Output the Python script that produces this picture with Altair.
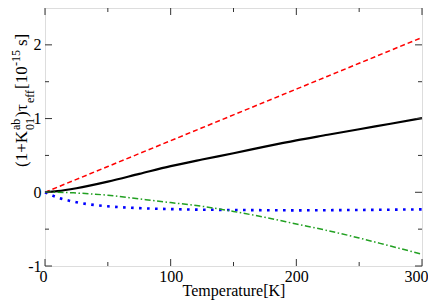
import altair as alt
import pandas as pd

# Temperature grid [K]
temp = [0, 10, 25, 50, 75, 100, 125, 150, 175, 200, 225, 250, 275, 300]
# series values (units of 1e-15 s)
red_dashed = [0, 0.07, 0.175, 0.35, 0.525, 0.70, 0.875, 1.05, 1.225, 1.40, 1.575, 1.75, 1.925, 2.10]
black_solid = [0, 0.015, 0.055, 0.145, 0.25, 0.355, 0.445, 0.53, 0.62, 0.705, 0.78, 0.855, 0.93, 1.005]
blue_dotted = [0, -0.07, -0.135, -0.19, -0.215, -0.228, -0.236, -0.24, -0.243, -0.245, -0.243, -0.24, -0.236, -0.232]
green_dashdot = [0, 0.0, -0.01, -0.04, -0.09, -0.14, -0.19, -0.26, -0.34, -0.43, -0.52, -0.62, -0.73, -0.84]

x_major = [0, 100, 200, 300]
x_minor = [50, 150, 250]
y_major = [-1, 0, 1, 2]
y_minor = [-0.5, 0.5, 1.5]

W, H = 377, 258
FONT = "Liberation Serif"

xs = alt.Scale(domain=[0, 300], nice=False, zero=False)
ys = alt.Scale(domain=[-1, 2.5], nice=False, zero=False)

X_AXIS = alt.Axis(values=x_major, ticks=False, domain=False, grid=False,
                  labelPadding=2, labelExpr="'' + datum.value",
                  labelFlush=True, labelFlushOffset=6,
                  labelFont=FONT, labelFontSize=16, labelColor="black",
                  title="Temperature[K]", titlePadding=-2,
                  titleFont=FONT, titleFontSize=16, titleFontWeight="normal", titleColor="black")
Y_AXIS = alt.Axis(values=y_major, ticks=False, domain=False, grid=False,
                  labelPadding=4, labelExpr="'' + datum.value", labelFlush=False,
                  labelFont=FONT, labelFontSize=16, labelColor="black", title=None)


def series_chart(vals, color, width, dash=None):
    df = pd.DataFrame({"T": temp, "v": vals})
    kw = dict(color=color, strokeWidth=width, interpolate="monotone", strokeCap="butt")
    if dash:
        kw["strokeDash"] = dash
    return alt.Chart(df).mark_line(**kw).encode(
        x=alt.X("T:Q", scale=xs, axis=X_AXIS),
        y=alt.Y("v:Q", scale=ys, axis=Y_AXIS),
    )


lines = [
    series_chart(red_dashed, "#ff0000", 1.5, [5, 3]),
    series_chart(black_solid, "#000000", 2.2),
    series_chart(blue_dotted, "#0000ff", 2.6, [2.6, 5.4]),
    series_chart(green_dashdot, "#22a022", 1.5, [6, 2.5, 1.5, 2.5]),
]


def xticks(vals, length):
    df = pd.DataFrame({"T": vals})
    base = alt.Chart(df).mark_rule(color="#333333", strokeWidth=1)
    bot = base.encode(x=alt.X("T:Q", scale=xs, axis=X_AXIS), y=alt.value(H), y2=alt.value(H - length))
    top = base.encode(x=alt.X("T:Q", scale=xs, axis=X_AXIS), y=alt.value(0), y2=alt.value(length))
    return [bot, top]


def yticks(vals, length):
    df = pd.DataFrame({"v": vals})
    base = alt.Chart(df).mark_rule(color="#333333", strokeWidth=1)
    left = base.encode(y=alt.Y("v:Q", scale=ys, axis=Y_AXIS), x=alt.value(0), x2=alt.value(length))
    right = base.encode(y=alt.Y("v:Q", scale=ys, axis=Y_AXIS), x=alt.value(W), x2=alt.value(W - length))
    return [left, right]


ticks = xticks(x_major, 7) + xticks(x_minor, 4) + yticks(y_major, 7) + yticks(y_minor, 4)

# y-axis title pieces: (text, font size, baseline x, start y) in plot coordinates
one = pd.DataFrame({"a": [0]})


def piece(txt, size, bx, sy):
    return alt.Chart(one).mark_text(
        text=txt, font=FONT, fontSize=size, angle=270, align="left",
        baseline="alphabetic", color="black"
    ).encode(x=alt.value(bx), y=alt.value(sy))


MAIN_X, SUP_X, SUB_X = -18, -25, -11
title_pieces = [
    piece("(1+K", 17, MAIN_X, 159),
    piece("ab", 12, SUP_X, 122),
    piece("01", 12, SUB_X, 122),
    piece(")", 17, MAIN_X, 109),
    piece("τ", 17, MAIN_X, 103),
    piece("eff", 12, SUB_X, 95),
    piece("[10", 17, MAIN_X, 81),
    piece("-15", 12, SUP_X, 58),
    piece("s]", 17, MAIN_X, 38),
]

chart = alt.layer(*lines, *ticks, *title_pieces).properties(
    width=W, height=H,
    autosize=alt.AutoSizeParams(type="none"),
    padding={"left": 37, "top": 0, "right": 6, "bottom": 34},
    background="white",
).configure_view(
    stroke="black", strokeWidth=1.3
).configure_axis(
    labelFont=FONT, labelFontSize=16, labelColor="black", tickSize=0,
    titleFont=FONT, titleFontSize=16, titleFontWeight="normal", titleColor="black",
).configure(
    font=FONT
)

chart.save("out.html", embed_options={"renderer": "svg", "actions": False})
